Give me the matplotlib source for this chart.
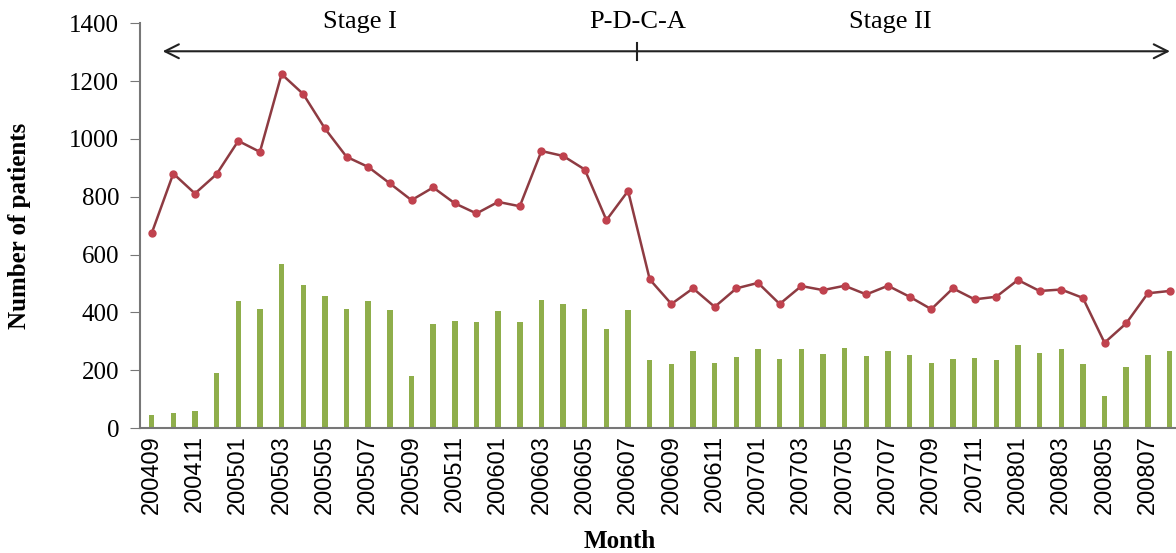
import matplotlib.pyplot as plt
import numpy as np

months = []
for y in range(2004, 2009):
    for m in range(1, 13):
        if (y, m) >= (2004, 9) and (y, m) <= (2008, 8):
            months.append("%d%02d" % (y, m))

total = [673, 880, 811, 878, 993, 955, 1224, 1155, 1036, 938, 903, 846,
         788, 832, 777, 742, 782, 767, 958, 941, 894, 719, 820, 514,
         429, 483, 419, 483, 502, 429, 491, 477, 492, 462, 492, 454,
         411, 483, 445, 454, 512, 474, 479, 450, 295, 362, 466, 474]

bars = [46, 52, 60, 189, 440, 411, 567, 495, 457, 411, 440, 408,
        181, 359, 371, 365, 404, 365, 442, 429, 411, 342, 408, 235,
        221, 265, 225, 244, 273, 238, 273, 256, 277, 250, 265, 253,
        225, 238, 242, 236, 288, 259, 273, 221, 112, 210, 252, 265]

stage_labels = ["Stage I", "P-D-C-A", "Stage II"]

serif = "Liberation Serif"
sans = "Liberation Sans"

x = np.arange(len(months))

fig = plt.figure(figsize=(11.76, 5.53), dpi=100)
ax = fig.add_axes([0.119, 0.226, 0.881, 0.732])

ax.bar(x, bars, width=0.25, color="#8FAE4B", zorder=2)
ax.plot(x, total, color="#8E3B42", lw=1.8, marker="o", ms=5,
        mfc="#C0424E", mec="#C0424E", zorder=3)

ax.set_xlim(-0.54, 47.3)
ax.set_ylim(0, 1400)
ax.set_yticks(range(0, 1401, 200))
ax.set_yticklabels([str(v) for v in range(0, 1401, 200)], fontfamily=serif, fontsize=18)
ax.set_xticks(x[::2])
ax.set_xticklabels(months[::2], rotation=90, fontfamily=sans, fontsize=17)
ax.tick_params(axis="x", length=0, pad=5)
ax.tick_params(axis="y", length=7, color="#777777", direction="out", pad=8)

for s in ["top", "right"]:
    ax.spines[s].set_visible(False)
for s in ["left", "bottom"]:
    ax.spines[s].set_color("#777777")
    ax.spines[s].set_linewidth(1.5)

ax.set_ylabel("Number of patients", fontfamily=serif, fontsize=18,
              fontweight="bold")
ax.yaxis.set_label_coords(-0.105, 0.5)
fig.text(620 / 1176, 1 - 541 / 553, "Month", ha="center", va="center",
         fontfamily=serif, fontsize=18, fontweight="bold")

# stage arrow
ay = 1303
ax.annotate("", xy=(0.38, ay), xytext=(47.15, ay),
            arrowprops=dict(arrowstyle="<->", color="#222222", lw=1.5,
                            mutation_scale=25), annotation_clip=False)
ax.plot([22.4, 22.4], [ay - 30, ay + 30], color="#222222", lw=1.5, clip_on=False)
for lab, xp in zip(stage_labels, [9.6, 22.45, 34.1]):
    ax.text(xp, 1403, lab, ha="center", va="center", fontfamily=serif,
            fontsize=19, clip_on=False)

fig.savefig("out.png", dpi=100)
